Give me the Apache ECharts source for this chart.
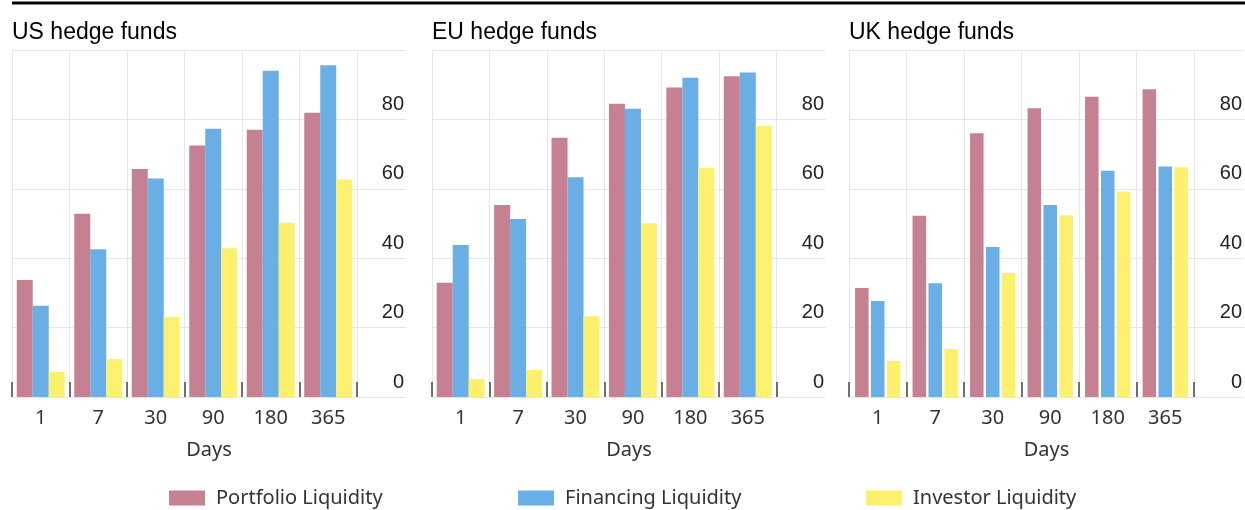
<!DOCTYPE html>
<html><head><meta charset="utf-8">
<script src="https://cdn.jsdelivr.net/npm/echarts@6/dist/echarts.min.js"></script>
<style>html,body{margin:0;padding:0;background:#fff}#c{width:1245px;height:510px}</style>
</head><body><div id="c"></div>
<script>
// ---- data ----
const categories = ['1', '7', '30', '90', '180', '365'];
const yTicks = [0, 20, 40, 60, 80, 100];
const seriesNames = ['Portfolio Liquidity', 'Financing Liquidity', 'Investor Liquidity'];
const panelTitles = ['US hedge funds', 'EU hedge funds', 'UK hedge funds'];
const xAxisName = 'Days';
const usPortfolio = [33.7, 52.8, 65.7, 72.5, 77.0, 81.9];
const usFinancing = [26.3, 42.6, 63.0, 77.3, 94.0, 95.6];
const usInvestor  = [7.3, 10.9, 23.1, 42.9, 50.2, 62.7];
const euPortfolio = [32.9, 55.3, 74.7, 84.5, 89.2, 92.4];
const euFinancing = [43.8, 51.3, 63.3, 83.1, 92.0, 93.5];
const euInvestor  = [5.2, 7.8, 23.3, 50.1, 66.1, 78.1];
const ukPortfolio = [31.4, 52.2, 76.0, 83.2, 86.5, 88.7];
const ukFinancing = [27.7, 32.8, 43.2, 55.3, 65.2, 66.4];
const ukInvestor  = [10.4, 13.8, 35.7, 52.4, 59.2, 66.2];

const panelData = [
  [usPortfolio, usFinancing, usInvestor],
  [euPortfolio, euFinancing, euInvestor],
  [ukPortfolio, ukFinancing, ukInvestor]
];

// ---- layout / style ----
const colors = ['#c58192', '#69afe5', '#fdf06f'];
const layout = [
  { left: 12,  catW: 345,   fullW: 394, barW: 16,   gap: '0%' },
  { left: 432, catW: 344.5, fullW: 394, barW: 16,   gap: '0%' },
  { left: 849, catW: 345,   fullW: 395, barW: 13.5, gap: '18%' }
];
const TOP = 50, H = 347;
const gridColor = '#e6e6e6';
const sansUI = '"Noto Sans", "Open Sans", sans-serif';
const sansArial = '"Liberation Sans", Arial, sans-serif';

const grid = [], xAxis = [], yAxis = [], series = [], title = [];
layout.forEach((p, i) => {
  grid.push({ left: p.left, top: TOP, width: p.catW, height: H, containLabel: false });
  grid.push({ left: p.left, top: TOP, width: p.fullW, height: H, containLabel: false });
  title.push({
    text: panelTitles[i], left: p.left, top: 21, padding: 0,
    textStyle: { fontFamily: sansArial, fontSize: 23, fontWeight: 'normal', color: '#000' }
  });
  // category axis for bars
  xAxis.push({
    type: 'category', gridIndex: 2 * i, data: categories, boundaryGap: true,
    axisLine: { show: false },
    axisTick: { show: true, inside: true, length: 15, lineStyle: { color: '#444', width: 1.5 } },
    axisLabel: { fontFamily: sansUI, fontSize: 20, color: '#333', margin: 11 },
    splitLine: { show: true, lineStyle: { color: gridColor, width: 1 } }
  });
  // full-width helper axis carrying the "Days" name
  xAxis.push({
    type: 'value', gridIndex: 2 * i + 1, min: 0, max: 1,
    axisLine: { show: false }, axisTick: { show: false }, axisLabel: { show: false },
    splitLine: { show: false },
    name: xAxisName, nameLocation: 'middle', nameGap: 43,
    nameTextStyle: { fontFamily: sansUI, fontSize: 20, color: '#333' }
  });
  yAxis.push({
    type: 'value', gridIndex: 2 * i, min: yTicks[0], max: yTicks[yTicks.length - 1], interval: 20,
    show: false
  });
  yAxis.push({
    type: 'value', gridIndex: 2 * i + 1, min: yTicks[0], max: yTicks[yTicks.length - 1], interval: 20,
    position: 'right',
    axisLine: { show: false }, axisTick: { show: false },
    axisLabel: {
      inside: true, margin: 2, showMaxLabel: false, align: 'right', verticalAlign: 'bottom',
      padding: [0, 0, 5, 0],
      fontFamily: sansArial, fontSize: 20, color: '#222'
    },
    splitLine: { show: true, lineStyle: { color: gridColor, width: 1 } }
  });
  panelData[i].forEach((vals, k) => {
    series.push({
      type: 'bar', name: seriesNames[k], xAxisIndex: 2 * i, yAxisIndex: 2 * i,
      data: vals, barWidth: p.barW, barGap: p.gap,
      itemStyle: { color: colors[k] }, silent: true
    });
  });
});

const legendLefts = [169, 518, 866];
const legend = seriesNames.map((n, k) => ({
  data: [n], left: legendLefts[k], top: 488, padding: 0, icon: 'rect',
  itemWidth: 36, itemHeight: 15, selectedMode: false,
  textStyle: { fontFamily: sansUI, fontSize: 20, color: '#333', padding: [0, 0, 0, 6] }
}));

const chart = echarts.init(document.getElementById('c'), null, { renderer: 'canvas' });
chart.setOption({
  animation: false,
  color: colors,
  title, grid, xAxis, yAxis, series, legend,
  graphic: [{
    type: 'line', shape: { x1: 12, y1: 3, x2: 1245, y2: 3 },
    style: { stroke: '#000', lineWidth: 3 }, silent: true
  }]
});
</script>
</body></html>
